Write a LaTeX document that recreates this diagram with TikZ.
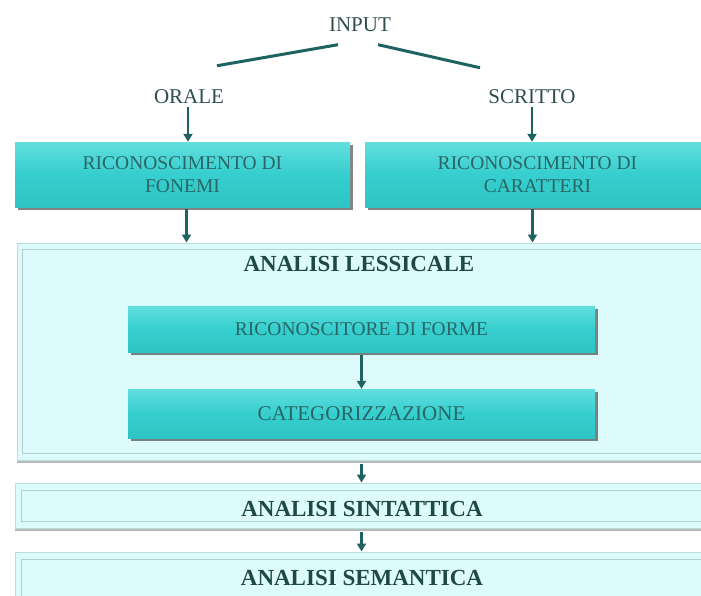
\documentclass[tikz,border=0pt]{standalone}
\usepackage{fontspec}
\setmainfont{Liberation Serif}
\usetikzlibrary{arrows.meta,shadows}
\definecolor{tealtop}{HTML}{62DEDE}
\definecolor{tealmid}{HTML}{36CECE}
\definecolor{tealbot}{HTML}{2EC4C4}
\definecolor{tealtxt}{HTML}{2A6666}
\definecolor{darktxt}{HTML}{2E4E4E}
\definecolor{linkcol}{HTML}{1E6262}
\definecolor{lightfill}{HTML}{DDFBFB}
\definecolor{lightedge}{HTML}{B9DEDE}
\definecolor{frameline}{HTML}{B2CECE}
\definecolor{boldtxt}{HTML}{1F4848}
\begin{document}
\begin{tikzpicture}[x=1pt,y=-1pt,
  label/.style={font=\fontsize{21}{24}\selectfont, text=darktxt, inner sep=0pt},
  tbox/.style={rectangle, top color=tealtop, bottom color=tealbot, middle color=tealmid,
    draw=none, align=center, text=tealtxt, font=\fontsize{19.5}{23}\selectfont,
    drop shadow={shadow xshift=2.5pt, shadow yshift=-3pt, fill=black!80, opacity=.6}},
  lbox/.style={rectangle, fill=lightfill, draw=lightedge, line width=1pt,
    drop shadow={shadow xshift=0pt, shadow yshift=-2.5pt, fill=black!55, opacity=.5}},
  frame/.style={draw=frameline, line width=0.8pt},
  title/.style={font=\bfseries\fontsize{23}{26}\selectfont, text=boldtxt, inner sep=0pt},
  link/.style={draw=linkcol, line width=3pt},
  arr/.style={draw=linkcol, line width=2.8pt, -{Triangle[length=8pt,width=9pt]}}
]
\useasboundingbox (0,0) rectangle (701,595);
\fill[white] (0,0) rectangle (701,595);
\clip (0,0) rectangle (701,595);

% top labels
\node[label] (input) at (360,24.5) {INPUT};
\node[label] (orale) at (189,97) {ORALE};
\node[label] (scritto) at (532,97) {SCRITTO};

\draw[link] ([xshift=-22pt,yshift=-13pt]input.south) -- ([xshift=28pt,yshift=24pt]orale.north);
\draw[link] ([xshift=18pt,yshift=-13pt]input.south) -- ([xshift=-52pt,yshift=22pt]scritto.north);

% recognition boxes
\node[tbox, minimum width=335pt, minimum height=65pt] (fon) at (182.5,174.5)
  {RICONOSCIMENTO DI\\FONEMI};
\node[tbox, minimum width=345pt, minimum height=65pt] (car) at (537.5,174.5)
  {RICONOSCIMENTO DI\\CARATTERI};

\draw[arr] ([xshift=-1pt,yshift=-3pt]orale.south) -- ([xshift=-1pt]orale.south |- fon.north);
\draw[arr] ([yshift=-3pt]scritto.south) -- (scritto.south |- car.north);

% lexical analysis block
\node[lbox, minimum width=693pt, minimum height=217pt] (les) at (363.5,351.5) {};
\draw[frame] ([shift={(6pt,-7pt)}]les.north west) rectangle ([shift={(-6pt,7pt)}]les.south east);
\node[title] (lestit) at (359,263.5) {ANALISI LESSICALE};

\draw[arr] ([xshift=4pt,yshift=-2pt]fon.south) -- ([xshift=4pt]fon.south |- les.north);
\draw[arr] ([xshift=-5pt,yshift=-2pt]car.south) -- ([xshift=-5pt]car.south |- les.north);

\node[tbox, minimum width=467pt, minimum height=46pt] (forme) at (361.5,329)
  {RICONOSCITORE DI FORME};
\node[tbox, minimum width=467pt, minimum height=49pt, font=\fontsize{21}{24}\selectfont] (cat) at (361.5,413.5)
  {CATEGORIZZAZIONE};
\draw[arr] ([yshift=-3pt]forme.south) -- (cat.north);

% syntactic analysis
\node[lbox, minimum width=695pt, minimum height=45pt] (sin) at (362.5,505.5) {};
\draw[frame] ([shift={(7pt,-8pt)}]sin.north west) rectangle ([shift={(-7pt,7pt)}]sin.south east);
\node[title] (sintit) at (362,509) {ANALISI SINTATTICA};
\draw[arr] ([yshift=-3pt]les.south -| cat.south) -- (sin.north -| cat.south);

% semantic analysis
\node[lbox, minimum width=695pt, minimum height=60pt] (sem) at (362.5,582) {};
\draw[frame] ([shift={(7pt,-8pt)}]sem.north west) rectangle ([shift={(-7pt,7pt)}]sem.south east);
\node[title] (semtit) at (362,577.5) {ANALISI SEMANTICA};
\draw[arr] ([yshift=-3pt]sin.south -| cat.south) -- (sem.north -| cat.south);
\end{tikzpicture}
\end{document}
